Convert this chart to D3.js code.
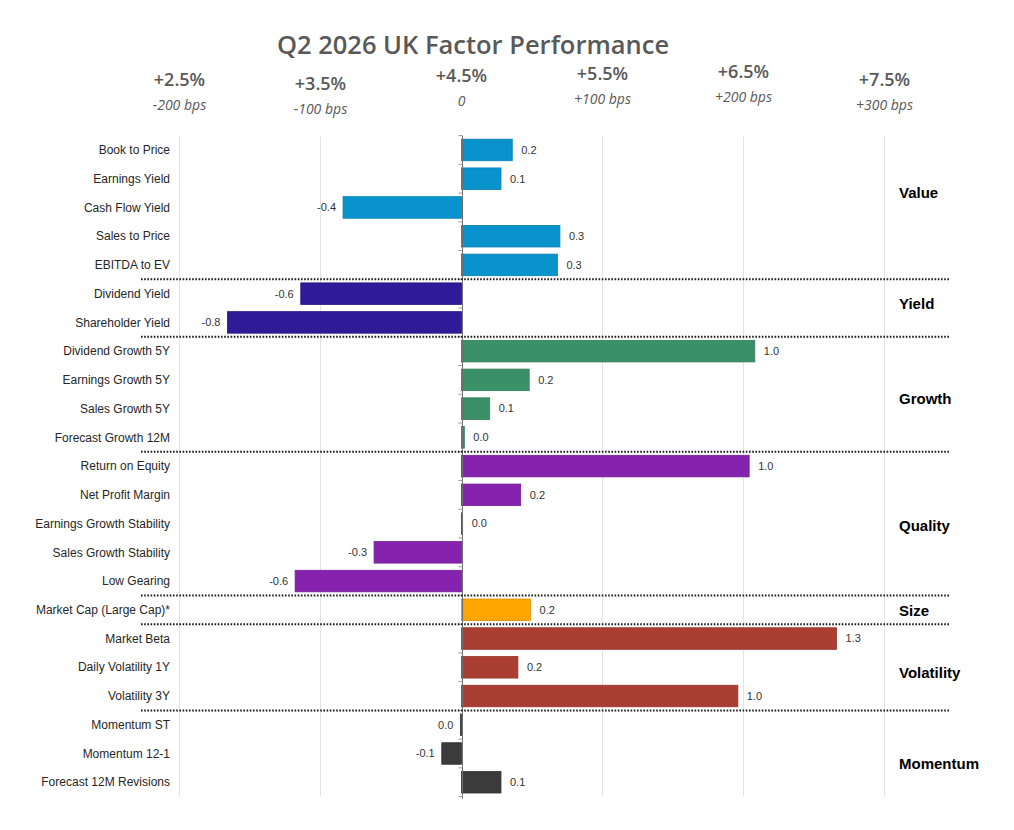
<!DOCTYPE html>
<meta charset="utf-8">
<head>
<style>
  body { margin: 0; background: #fff; }
  .factor { font: 12px "Liberation Sans", Arial, sans-serif; fill: #262626; }
  .val { font: 11px "Liberation Sans", Arial, sans-serif; fill: #333; }
  .grp { font: bold 15px "Liberation Sans", Arial, sans-serif; fill: #000; }
  .pct { font: 600 18px "Open Sans", sans-serif; fill: #595959; }
  .bps { font: italic 14px "Open Sans", sans-serif; fill: #595959; }
  .title { font: 600 25.5px "Open Sans", sans-serif; fill: #595959; }
  .grid { stroke: #e3e3e3; stroke-width: 1; }
  .sep { stroke: #1a1a1a; stroke-width: 2; stroke-dasharray: 1.6,1.6; }
</style>
</head>
<body>
<div id="content"></div>
<script src="https://d3js.org/d3.v7.min.js"></script>
<script>

var factors = ["Book to Price", "Earnings Yield", "Cash Flow Yield", "Sales to Price", "EBITDA to EV",
  "Dividend Yield", "Shareholder Yield",
  "Dividend Growth 5Y", "Earnings Growth 5Y", "Sales Growth 5Y", "Forecast Growth 12M",
  "Return on Equity", "Net Profit Margin", "Earnings Growth Stability", "Sales Growth Stability", "Low Gearing",
  "Market Cap (Large Cap)*",
  "Market Beta", "Daily Volatility 1Y", "Volatility 3Y",
  "Momentum ST", "Momentum 12-1", "Forecast 12M Revisions"];

var values = [0.18, 0.14, -0.42, 0.349, 0.34,
  -0.57, -0.83,
  1.04, 0.24, 0.10, 0.01,
  1.02, 0.21, 0.004, -0.31, -0.59,
  0.245,
  1.33, 0.20, 0.98,
  -0.004, -0.07, 0.14];

var groupNames = ["Value", "Yield", "Growth", "Quality", "Size", "Volatility", "Momentum"];
var groupSizes = [5, 2, 4, 5, 1, 3, 3];
var groupColors = ["#0893cd", "#2f1b98", "#3a9067", "#8523ae", "#ffa500", "#aa3e32", "#3b3b3b"];

var tickValues = [-1, -0.5, 0, 0.5, 1, 1.5];
var tickPct = ["+2.5%", "+3.5%", "+4.5%", "+5.5%", "+6.5%", "+7.5%"];
var tickBps = ["-200 bps", "-100 bps", "0", "+100 bps", "+200 bps", "+300 bps"];

var W = 1014, H = 830;
var top0 = 135.6, bot0 = 796.6;

var svg = d3.select("#content").append("svg")
    .attr("width", W).attr("height", H);

var x = d3.scaleLinear().domain([-1, 1.5]).range([179.5, 884.5]);
var y = d3.scaleBand().domain(factors).range([top0, bot0])
    .paddingInner(0.25).paddingOuter(0.125);

// group index for each factor
var groupOf = [];
groupSizes.forEach(function(n, g) { for (var k = 0; k < n; k++) groupOf.push(g); });

// title
svg.append("text").attr("class", "title")
    .attr("x", 473).attr("y", 54).attr("text-anchor", "middle")
    .text("Q2 2026 UK Factor Performance");

// header tick labels (they sit a bit uneven in the original)
var wobble = [4, 8, 0, -2, -4, 4];
svg.selectAll("text.pct").data(tickValues).enter().append("text")
    .attr("class", "pct").attr("text-anchor", "middle")
    .attr("x", function(d) { return x(d); })
    .attr("y", function(d, i) { return 82 + wobble[i]; })
    .text(function(d, i) { return tickPct[i]; });
svg.selectAll("text.bps").data(tickValues).enter().append("text")
    .attr("class", "bps").attr("text-anchor", "middle")
    .attr("x", function(d) { return x(d); })
    .attr("y", function(d, i) { return 106 + wobble[i]; })
    .text(function(d, i) { return tickBps[i]; });

// gridlines
svg.selectAll("line.grid").data(tickValues.filter(function(d) { return d !== 0; }))
  .enter().append("line").attr("class", "grid")
    .attr("x1", function(d) { return x(d); }).attr("x2", function(d) { return x(d); })
    .attr("y1", top0 + 1).attr("y2", bot0);

// bars
var step = y.step();
svg.selectAll("rect.bar").data(values).enter().append("rect")
    .attr("class", "bar")
    .attr("x", function(d) { return Math.min(x(0), x(d)); })
    .attr("y", function(d, i) { return y(factors[i]); })
    .attr("width", function(d) { return Math.max(0.8, Math.abs(x(d) - x(0))); })
    .attr("height", y.bandwidth())
    .attr("fill", function(d, i) { return groupColors[groupOf[i]]; })
    .attr("stroke", function(d, i) { return d3.color(groupColors[groupOf[i]]).darker(0.4); })
    .attr("stroke-width", 0.8);

// value labels
function fmt(v) { return Math.abs(v) < 0.05 ? "0.0" : v.toFixed(1); }
svg.selectAll("text.val").data(values).enter().append("text")
    .attr("class", "val")
    .attr("x", function(d) { return d < 0 ? x(d) - 7 : x(d) + 9; })
    .attr("y", function(d, i) { return y(factors[i]) + y.bandwidth() / 2; })
    .attr("dy", "0.35em")
    .attr("text-anchor", function(d) { return d < 0 ? "end" : "start"; })
    .text(fmt);

// factor names
svg.selectAll("text.factor").data(factors).enter().append("text")
    .attr("class", "factor")
    .attr("x", 170)
    .attr("y", function(d) { return y(d) + y.bandwidth() / 2; })
    .attr("dy", "0.35em")
    .attr("text-anchor", "end")
    .text(function(d) { return d; });

// zero axis with little ticks at row boundaries
var zx = Math.round(x(0)) + 0.5;
svg.append("line").attr("x1", zx).attr("x2", zx).attr("y1", top0).attr("y2", bot0 + 2)
    .attr("stroke", "#6f6f6f").attr("stroke-width", 1);
svg.selectAll("line.ztick").data(d3.range(factors.length + 1)).enter().append("line")
    .attr("x1", zx - 4).attr("x2", zx)
    .attr("y1", function(i) { return top0 + i * step; })
    .attr("y2", function(i) { return top0 + i * step; })
    .attr("stroke", "#9a9a9a").attr("stroke-width", 1);

// group separators and names
var cum = 0;
var labelRow = [1.5, 0.36, 1.67, 2.08, 0.04, 1.2, 1.37];   // where the name sits inside its block
groupSizes.forEach(function(n, g) {
  if (g > 0) {
    var yy = top0 + cum * step;
    svg.append("line").attr("class", "sep")
        .attr("x1", 141).attr("x2", 950).attr("y1", yy).attr("y2", yy);
  }
  svg.append("text").attr("class", "grp")
      .attr("x", 899)
      .attr("y", top0 + (cum + 0.5 + labelRow[g]) * step)
      .attr("dy", "0.35em")
      .text(groupNames[g]);
  cum += n;
});

</script>
</body>
</html>
